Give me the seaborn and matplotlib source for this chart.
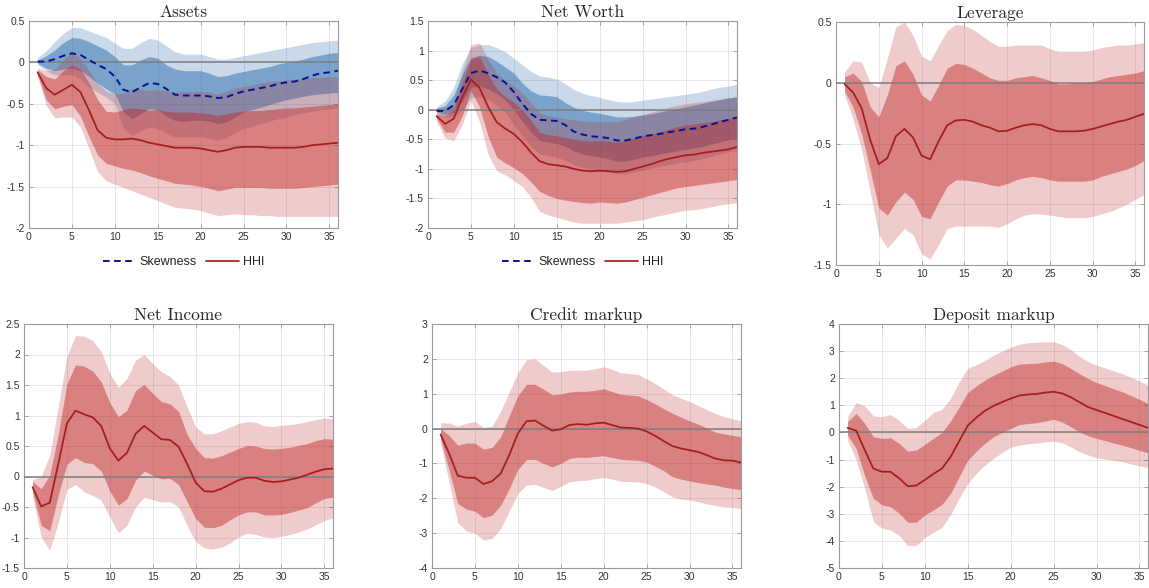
import numpy as np
import matplotlib
matplotlib.use("Agg")
import matplotlib.pyplot as plt
import seaborn as sns
from matplotlib.ticker import FuncFormatter

# horizon (months)
steps = list(range(1, 37))

# ---- Assets ----
assets_hhi = [-0.12,-0.31,-0.39,-0.33,-0.27,-0.36,-0.58,-0.82,-0.91,-0.93,-0.93,-0.92,-0.94,-0.97,-0.99,-1.01,-1.03,-1.03,
              -1.03,-1.04,-1.06,-1.08,-1.06,-1.03,-1.02,-1.02,-1.02,-1.03,-1.03,-1.03,-1.03,-1.02,-1.0,-0.99,-0.98,-0.97]
assets_hhi_in_hi = [-0.09,-0.17,-0.2,-0.1,-0.03,-0.08,-0.25,-0.45,-0.59,-0.6,-0.57,-0.55,-0.56,-0.58,-0.57,-0.59,-0.6,-0.6,
                    -0.6,-0.61,-0.62,-0.64,-0.62,-0.6,-0.59,-0.58,-0.58,-0.57,-0.56,-0.55,-0.55,-0.54,-0.53,-0.52,-0.51,-0.5]
assets_hhi_in_lo = [-0.15,-0.45,-0.56,-0.53,-0.51,-0.65,-0.9,-1.12,-1.22,-1.25,-1.28,-1.3,-1.33,-1.37,-1.4,-1.43,-1.46,-1.47,
                    -1.48,-1.5,-1.52,-1.55,-1.53,-1.51,-1.51,-1.51,-1.51,-1.52,-1.52,-1.52,-1.52,-1.51,-1.5,-1.49,-1.48,-1.47]
assets_hhi_out_hi = [-0.07,-0.1,-0.08,0.03,0.13,0.05,-0.1,-0.25,-0.35,-0.38,-0.37,-0.32,-0.32,-0.34,-0.33,-0.34,-0.36,-0.35,
                     -0.35,-0.35,-0.36,-0.38,-0.35,-0.31,-0.29,-0.27,-0.25,-0.23,-0.22,-0.21,-0.2,-0.19,-0.18,-0.18,-0.17,-0.17]
assets_hhi_out_lo = [-0.17,-0.52,-0.67,-0.66,-0.66,-0.78,-1.05,-1.32,-1.43,-1.47,-1.51,-1.55,-1.59,-1.63,-1.67,-1.71,-1.75,-1.76,
                     -1.77,-1.79,-1.82,-1.85,-1.84,-1.83,-1.84,-1.84,-1.85,-1.85,-1.86,-1.86,-1.86,-1.86,-1.86,-1.86,-1.86,-1.86]
assets_skew = [0.01,0.01,0.04,0.08,0.11,0.09,0.03,-0.03,-0.08,-0.17,-0.33,-0.36,-0.3,-0.25,-0.26,-0.32,-0.39,-0.4,
               -0.4,-0.4,-0.41,-0.43,-0.42,-0.38,-0.35,-0.33,-0.31,-0.29,-0.26,-0.24,-0.23,-0.2,-0.16,-0.13,-0.12,-0.1]
assets_skew_in_hi = [0.03,0.08,0.15,0.24,0.3,0.29,0.25,0.2,0.15,0.07,-0.03,-0.03,0.03,0.07,0.05,-0.03,-0.08,-0.1,
                     -0.1,-0.1,-0.13,-0.17,-0.16,-0.13,-0.11,-0.09,-0.07,-0.05,-0.02,0.0,0.02,0.04,0.07,0.09,0.11,0.12]
assets_skew_in_lo = [-0.01,-0.07,-0.1,-0.08,-0.07,-0.1,-0.17,-0.25,-0.32,-0.38,-0.6,-0.68,-0.62,-0.56,-0.57,-0.65,-0.7,-0.71,
                     -0.7,-0.7,-0.71,-0.74,-0.72,-0.66,-0.6,-0.57,-0.54,-0.51,-0.48,-0.45,-0.43,-0.41,-0.39,-0.38,-0.37,-0.36]
assets_skew_out_hi = [0.06,0.14,0.25,0.35,0.42,0.42,0.38,0.34,0.3,0.23,0.17,0.17,0.24,0.29,0.27,0.2,0.13,0.1,
                      0.1,0.1,0.07,0.04,0.04,0.06,0.08,0.1,0.12,0.14,0.16,0.18,0.2,0.22,0.24,0.25,0.26,0.27]
assets_skew_out_lo = [-0.03,-0.1,-0.15,-0.15,-0.15,-0.2,-0.3,-0.36,-0.42,-0.5,-0.8,-0.88,-0.83,-0.78,-0.8,-0.86,-0.9,-0.9,
                      -0.9,-0.9,-0.92,-0.94,-0.91,-0.85,-0.8,-0.77,-0.74,-0.71,-0.68,-0.66,-0.63,-0.61,-0.59,-0.57,-0.56,-0.55]

# ---- Net Worth ----
nw_hhi = [-0.11,-0.24,-0.15,0.21,0.51,0.37,0.05,-0.21,-0.32,-0.41,-0.55,-0.72,-0.87,-0.92,-0.94,-0.96,-1.0,-1.03,
          -1.04,-1.03,-1.04,-1.05,-1.04,-1.0,-0.96,-0.92,-0.87,-0.83,-0.8,-0.77,-0.76,-0.73,-0.71,-0.69,-0.67,-0.63]
nw_hhi_in_hi = [-0.07,-0.1,0.0,0.45,0.85,0.9,0.6,0.35,0.22,0.12,0.0,-0.18,-0.38,-0.42,-0.44,-0.47,-0.5,-0.52,
                -0.53,-0.52,-0.53,-0.55,-0.52,-0.48,-0.44,-0.41,-0.37,-0.33,-0.29,-0.26,-0.24,-0.22,-0.2,-0.17,-0.15,-0.13]
nw_hhi_in_lo = [-0.15,-0.38,-0.38,-0.1,0.32,0.05,-0.45,-0.8,-0.9,-0.98,-1.08,-1.22,-1.38,-1.45,-1.5,-1.53,-1.55,-1.57,
                -1.58,-1.56,-1.57,-1.58,-1.56,-1.52,-1.48,-1.44,-1.4,-1.36,-1.32,-1.3,-1.28,-1.26,-1.24,-1.22,-1.2,-1.18]
nw_hhi_out_hi = [-0.05,0.0,0.1,0.65,1.1,1.13,0.85,0.62,0.5,0.4,0.28,0.12,-0.05,-0.1,-0.12,-0.15,-0.17,-0.19,
                 -0.2,-0.2,-0.2,-0.2,-0.17,-0.12,-0.08,-0.04,0.0,0.04,0.07,0.1,0.12,0.14,0.16,0.18,0.2,0.22]
nw_hhi_out_lo = [-0.2,-0.48,-0.52,-0.25,0.15,-0.2,-0.75,-1.03,-1.1,-1.2,-1.3,-1.48,-1.72,-1.78,-1.82,-1.86,-1.9,-1.92,
                 -1.92,-1.92,-1.92,-1.92,-1.9,-1.88,-1.86,-1.82,-1.79,-1.76,-1.73,-1.7,-1.69,-1.67,-1.64,-1.61,-1.59,-1.57]
nw_skew = [-0.02,-0.02,0.08,0.35,0.62,0.66,0.62,0.55,0.46,0.3,0.1,-0.07,-0.17,-0.18,-0.19,-0.26,-0.37,-0.42,
           -0.45,-0.46,-0.48,-0.52,-0.52,-0.49,-0.45,-0.43,-0.41,-0.38,-0.36,-0.33,-0.32,-0.29,-0.25,-0.21,-0.17,-0.13]
nw_skew_in_hi = [0.03,0.07,0.25,0.6,0.88,0.92,0.9,0.82,0.72,0.62,0.45,0.32,0.25,0.24,0.22,0.12,0.04,-0.01,
                 -0.04,-0.06,-0.09,-0.12,-0.12,-0.11,-0.09,-0.07,-0.04,-0.01,0.02,0.05,0.08,0.11,0.14,0.17,0.2,0.22]
nw_skew_in_lo = [-0.04,-0.08,-0.05,0.15,0.38,0.4,0.35,0.27,0.17,0.0,-0.2,-0.38,-0.52,-0.55,-0.57,-0.62,-0.7,-0.75,
                 -0.78,-0.8,-0.83,-0.87,-0.87,-0.84,-0.8,-0.78,-0.75,-0.72,-0.7,-0.67,-0.65,-0.62,-0.58,-0.55,-0.51,-0.48]
nw_skew_out_hi = [0.05,0.15,0.38,0.78,1.05,1.1,1.1,1.05,0.98,0.87,0.76,0.65,0.57,0.55,0.52,0.44,0.34,0.28,
                  0.24,0.21,0.17,0.14,0.13,0.14,0.16,0.18,0.2,0.22,0.24,0.26,0.28,0.31,0.35,0.38,0.4,0.43]
nw_skew_out_lo = [-0.06,-0.12,-0.12,0.0,0.2,0.22,0.17,0.08,-0.05,-0.25,-0.45,-0.62,-0.75,-0.78,-0.8,-0.86,-0.93,-0.98,
                  -1.0,-1.02,-1.05,-1.08,-1.08,-1.05,-1.02,-0.99,-0.96,-0.93,-0.9,-0.88,-0.86,-0.83,-0.79,-0.75,-0.71,-0.68]

# ---- Leverage ----
lev = [-0.01,-0.08,-0.21,-0.47,-0.67,-0.62,-0.44,-0.38,-0.45,-0.6,-0.63,-0.48,-0.35,-0.31,-0.305,-0.32,-0.35,-0.37,
       -0.4,-0.395,-0.37,-0.35,-0.34,-0.35,-0.38,-0.4,-0.4,-0.4,-0.395,-0.38,-0.36,-0.34,-0.32,-0.305,-0.28,-0.255]
lev_in_hi = [0.05,0.08,0.01,-0.2,-0.28,-0.1,0.14,0.18,0.07,-0.1,-0.15,-0.02,0.12,0.16,0.15,0.12,0.08,0.04,
             0.02,0.02,0.04,0.05,0.06,0.04,0.02,-0.01,-0.01,0.0,0.0,0.01,0.03,0.05,0.06,0.07,0.08,0.1]
lev_in_lo = [-0.07,-0.2,-0.42,-0.72,-1.03,-1.09,-0.98,-0.9,-0.96,-1.1,-1.12,-0.98,-0.85,-0.8,-0.8,-0.81,-0.82,-0.84,
             -0.85,-0.83,-0.8,-0.78,-0.77,-0.78,-0.8,-0.81,-0.81,-0.81,-0.81,-0.8,-0.77,-0.75,-0.73,-0.71,-0.68,-0.64]
lev_out_hi = [0.09,0.18,0.17,0.0,-0.04,0.2,0.46,0.5,0.39,0.22,0.18,0.31,0.43,0.48,0.47,0.44,0.39,0.34,
              0.3,0.3,0.31,0.31,0.31,0.31,0.28,0.26,0.26,0.26,0.26,0.27,0.29,0.3,0.31,0.31,0.32,0.33]
lev_out_lo = [-0.1,-0.3,-0.55,-0.9,-1.25,-1.36,-1.28,-1.2,-1.25,-1.41,-1.45,-1.33,-1.2,-1.18,-1.18,-1.18,-1.18,-1.18,
              -1.19,-1.16,-1.12,-1.09,-1.08,-1.08,-1.09,-1.1,-1.11,-1.11,-1.11,-1.1,-1.08,-1.06,-1.03,-1.0,-0.96,-0.92]

# ---- Net Income ----
ni = [-0.175,-0.49,-0.43,0.21,0.87,1.08,1.02,0.97,0.83,0.46,0.26,0.39,0.7,0.83,0.72,0.61,0.6,0.49,
      0.21,-0.1,-0.24,-0.25,-0.2,-0.13,-0.06,-0.02,-0.02,-0.07,-0.09,-0.08,-0.05,-0.02,0.03,0.08,0.12,0.13]
ni_in_hi = [-0.08,-0.2,0.02,0.7,1.52,1.83,1.81,1.73,1.55,1.21,0.98,1.09,1.41,1.51,1.36,1.23,1.19,1.07,
            0.69,0.46,0.31,0.3,0.34,0.4,0.46,0.51,0.5,0.46,0.45,0.46,0.48,0.51,0.54,0.59,0.62,0.61]
ni_in_lo = [-0.25,-0.8,-0.89,-0.3,0.2,0.31,0.23,0.21,0.09,-0.24,-0.47,-0.36,-0.06,0.09,0.02,-0.04,-0.03,-0.13,
            -0.41,-0.69,-0.83,-0.84,-0.8,-0.71,-0.63,-0.58,-0.58,-0.63,-0.63,-0.62,-0.59,-0.55,-0.51,-0.43,-0.36,-0.34]
ni_out_hi = [-0.05,0.0,0.35,1.15,1.97,2.31,2.3,2.23,2.05,1.69,1.46,1.61,1.91,2.0,1.85,1.72,1.64,1.5,
             1.14,0.81,0.7,0.7,0.75,0.81,0.87,0.9,0.89,0.83,0.82,0.84,0.85,0.87,0.9,0.93,0.96,0.94]
ni_out_lo = [-0.33,-0.99,-1.21,-0.75,-0.21,-0.13,-0.25,-0.31,-0.39,-0.67,-0.92,-0.8,-0.5,-0.34,-0.38,-0.42,-0.41,-0.5,
             -0.8,-1.07,-1.17,-1.19,-1.16,-1.09,-0.99,-0.93,-0.95,-0.99,-1.0,-0.98,-0.95,-0.91,-0.86,-0.79,-0.72,-0.68]

# ---- Credit markup ----
cm = [-0.17,-0.72,-1.35,-1.41,-1.41,-1.59,-1.51,-1.29,-0.76,-0.14,0.21,0.23,0.08,-0.06,-0.02,0.1,0.13,0.11,
      0.15,0.17,0.1,0.03,0.02,0.0,-0.08,-0.21,-0.36,-0.5,-0.57,-0.62,-0.67,-0.76,-0.86,-0.91,-0.92,-0.97]
cm_in_hi = [0.0,-0.2,-0.48,-0.41,-0.42,-0.59,-0.54,-0.24,0.37,0.94,1.27,1.27,1.13,0.97,0.99,1.05,1.07,1.07,
            1.1,1.14,1.06,0.98,0.96,0.94,0.83,0.71,0.57,0.44,0.33,0.22,0.13,0.02,-0.1,-0.15,-0.19,-0.24]
cm_in_lo = [-0.3,-1.2,-2.15,-2.31,-2.37,-2.56,-2.48,-2.2,-1.72,-1.17,-0.89,-0.88,-1.0,-1.1,-1.0,-0.86,-0.82,-0.83,
            -0.8,-0.78,-0.83,-0.88,-0.9,-0.91,-0.96,-1.08,-1.21,-1.38,-1.45,-1.5,-1.55,-1.59,-1.62,-1.68,-1.72,-1.75]
cm_out_hi = [0.17,0.16,0.07,0.15,0.21,0.03,0.07,0.5,1.05,1.6,1.98,2.0,1.81,1.62,1.63,1.67,1.68,1.67,
             1.72,1.77,1.7,1.6,1.58,1.55,1.43,1.29,1.13,0.97,0.87,0.78,0.66,0.55,0.43,0.35,0.28,0.23]
cm_out_lo = [-0.4,-1.55,-2.7,-2.94,-3.0,-3.2,-3.15,-2.87,-2.37,-1.86,-1.62,-1.6,-1.69,-1.77,-1.66,-1.53,-1.49,-1.48,
             -1.44,-1.41,-1.45,-1.51,-1.52,-1.53,-1.58,-1.68,-1.81,-1.96,-2.02,-2.05,-2.1,-2.16,-2.2,-2.25,-2.27,-2.29]

# ---- Deposit markup ----
dm = [0.17,0.07,-0.65,-1.33,-1.45,-1.45,-1.69,-1.98,-1.96,-1.75,-1.53,-1.33,-0.9,-0.32,0.25,0.55,0.8,0.98,
      1.12,1.25,1.36,1.4,1.42,1.47,1.5,1.44,1.3,1.12,0.94,0.83,0.72,0.61,0.5,0.39,0.28,0.17]
dm_in_hi = [0.4,0.7,0.33,-0.16,-0.22,-0.2,-0.4,-0.69,-0.65,-0.44,-0.22,0.0,0.42,0.94,1.47,1.72,1.93,2.11,
            2.26,2.42,2.52,2.54,2.55,2.6,2.63,2.54,2.36,2.17,1.99,1.84,1.73,1.61,1.5,1.36,1.22,1.07]
dm_in_lo = [-0.1,-0.59,-1.6,-2.43,-2.67,-2.74,-2.98,-3.31,-3.31,-3.04,-2.86,-2.65,-2.25,-1.63,-1.02,-0.69,-0.4,-0.16,
            0.0,0.15,0.29,0.33,0.36,0.42,0.48,0.39,0.21,0.02,-0.12,-0.22,-0.3,-0.39,-0.47,-0.56,-0.66,-0.75]
dm_out_hi = [0.58,1.1,0.98,0.61,0.58,0.66,0.45,0.15,0.18,0.45,0.74,0.85,1.25,1.87,2.36,2.5,2.66,2.85,
             3.0,3.15,3.25,3.31,3.33,3.34,3.34,3.25,3.05,2.81,2.62,2.48,2.38,2.27,2.17,2.03,1.9,1.74]
dm_out_lo = [-0.28,-1.02,-2.06,-3.29,-3.53,-3.6,-3.8,-4.17,-4.17,-3.88,-3.68,-3.5,-3.04,-2.43,-1.88,-1.51,-1.2,-0.96,
             -0.74,-0.55,-0.47,-0.42,-0.39,-0.35,-0.32,-0.38,-0.53,-0.71,-0.83,-0.93,-0.98,-1.03,-1.08,-1.16,-1.23,-1.3]

titles = ["Assets", "Net Worth", "Leverage", "Net Income", "Credit markup", "Deposit markup"]

RED = "#c02828"
RED_LINE = "#a51d1d"
BLUE = "#1e64aa"
BLUE_LINE = "#07128f"

sns.set_style("whitegrid")
plt.rcParams['font.family'] = ['Liberation Sans', 'DejaVu Sans']
plt.rcParams['axes.unicode_minus'] = False

fig = plt.figure(figsize=(11.49, 5.88), dpi=100)

# axes boxes in pixels: left, top, right, bottom
boxes = [(29, 21, 338, 228), (428, 21, 737, 228), (836, 22, 1144, 265),
         (24, 324, 333, 568), (432, 324, 741, 568), (839, 324, 1148, 568)]
W, H = 1149, 588
axes = []
for l, t, r, b in boxes:
    axes.append(fig.add_axes([l / W, 1 - b / H, (r - l) / W, (b - t) / H]))


def bands(ax, in_lo, in_hi, out_lo, out_hi, color):
    ax.fill_between(steps, out_lo, out_hi, color=color, alpha=0.24, lw=0, zorder=2)
    ax.fill_between(steps, in_lo, in_hi, color=color, alpha=0.46, lw=0, zorder=2)


def style(ax, title, ylim, yticks):
    ax.set_xlim(0, 36)
    ax.set_ylim(*ylim)
    ax.set_xticks(range(0, 36, 5))
    ax.set_yticks(yticks)
    ax.yaxis.set_major_formatter(FuncFormatter(lambda v, p: "%g" % round(v, 2)))
    ax.grid(True, color="#e3e3e3", lw=0.6, zorder=0)
    ax.set_axisbelow(True)
    for s in ax.spines.values():
        s.set_color("#9a9a9a")
        s.set_linewidth(0.8)
    ax.tick_params(direction="in", length=3, width=0.6, color="#9a9a9a",
                   labelsize=7.5, labelcolor="#333333", pad=3,
                   top=True, right=True, bottom=True, left=True)
    ax.axhline(0, color="#7f7f7f", lw=1.1, zorder=3)
    ax.set_title(title, family="cmr10", fontsize=12.5, pad=3)
    ax.set_xlabel("")
    ax.set_ylabel("")


# panels with both measures
two = [(axes[0], assets_skew, assets_skew_in_lo, assets_skew_in_hi, assets_skew_out_lo, assets_skew_out_hi,
        assets_hhi, assets_hhi_in_lo, assets_hhi_in_hi, assets_hhi_out_lo, assets_hhi_out_hi,
        (-2, 0.5), np.arange(-2, 0.51, 0.5)),
       (axes[1], nw_skew, nw_skew_in_lo, nw_skew_in_hi, nw_skew_out_lo, nw_skew_out_hi,
        nw_hhi, nw_hhi_in_lo, nw_hhi_in_hi, nw_hhi_out_lo, nw_hhi_out_hi,
        (-2, 1.5), np.arange(-2, 1.51, 0.5))]

for i, (ax, sk, sk_il, sk_ih, sk_ol, sk_oh, hh, hh_il, hh_ih, hh_ol, hh_oh, yl, yt) in enumerate(two):
    bands(ax, sk_il, sk_ih, sk_ol, sk_oh, BLUE)
    bands(ax, hh_il, hh_ih, hh_ol, hh_oh, RED)
    sns.lineplot(x=steps, y=sk, ax=ax, color=BLUE_LINE, lw=1.4, linestyle=(0, (3.4, 2.3)),
                 label="Skewness", zorder=4)
    sns.lineplot(x=steps, y=hh, ax=ax, color=RED_LINE, lw=1.25, label="HHI", zorder=4)
    style(ax, titles[i], yl, yt)
    ax.legend(loc="center", bbox_to_anchor=(0.5, -0.165), ncol=2, frameon=False,
              fontsize=9, handlelength=2.6, columnspacing=0.8, handletextpad=0.3)

# single-measure panels
single = [(axes[2], lev, lev_in_lo, lev_in_hi, lev_out_lo, lev_out_hi, (-1.5, 0.5), np.arange(-1.5, 0.51, 0.5)),
          (axes[3], ni, ni_in_lo, ni_in_hi, ni_out_lo, ni_out_hi, (-1.5, 2.5), np.arange(-1.5, 2.51, 0.5)),
          (axes[4], cm, cm_in_lo, cm_in_hi, cm_out_lo, cm_out_hi, (-4, 3), np.arange(-4, 3.1, 1)),
          (axes[5], dm, dm_in_lo, dm_in_hi, dm_out_lo, dm_out_hi, (-5, 4), np.arange(-5, 4.1, 1))]

for j, (ax, md, il, ih, ol, oh, yl, yt) in enumerate(single):
    bands(ax, il, ih, ol, oh, RED)
    sns.lineplot(x=steps, y=md, ax=ax, color=RED_LINE, lw=1.25, zorder=4)
    style(ax, titles[j + 2], yl, yt)

fig.savefig("out.png", dpi=100)
